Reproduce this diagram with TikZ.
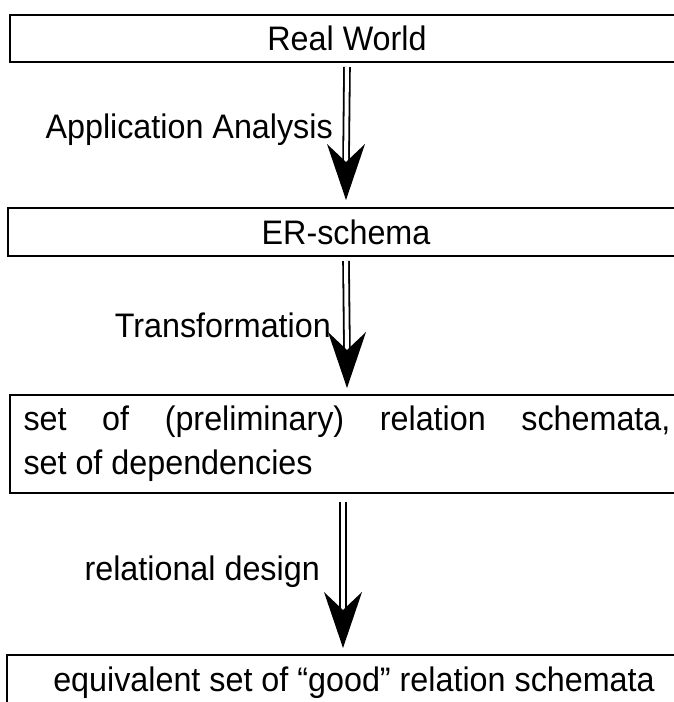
\documentclass[tikz,border=0pt]{standalone}
\usepackage{fontspec}
\setmainfont[FakeStretch=0.95]{Liberation Sans}
\usetikzlibrary{arrows.meta}
\begin{document}
\begin{tikzpicture}[x=1pt,y=-1pt,
  font=\fontsize{34}{40}\selectfont,
  box/.style={draw, line width=1.8pt, rectangle, inner sep=0pt, outer sep=0pt},
  lbl/.style={anchor=east, inner sep=0pt},
  dbl/.style={double, double distance=4pt, line width=1.8pt},
  head/.style={draw=none, fill=black}]
\useasboundingbox (0,0) rectangle (673,702);
\node[box, minimum width=674pt, minimum height=47pt] (rw) at (347,38.5) {Real World};
\node[box, minimum width=676pt, minimum height=48pt] (er) at (346,232) {ER-schema};
\node[box, minimum width=674pt, minimum height=98pt, align=left] (rs) at (347,444)
  {\makebox[647pt][s]{set of (preliminary) relation schemata,}\\[4pt]
   \makebox[647pt][l]{set of dependencies}};
\node[box, minimum width=694pt, minimum height=56pt] (gs) at (354,683) {equivalent set of “good” relation schemata};
% arrows
\coordinate (t1) at ([yshift=8pt]er.north);
\coordinate (t2) at ([yshift=7pt]rs.north);
\coordinate (t3) at ([xshift=-11pt,yshift=7pt]gs.north);
\draw[dbl] ([yshift=-5pt]rw.south) -- ([yshift=35pt]t1);
\draw[dbl] ([yshift=-5pt]er.south) -- ([yshift=35pt]t2);
\draw[dbl] ([xshift=-4pt,yshift=-9pt]rs.south) -- ([yshift=35pt]t3);
\fill[head] (t1) -- ++(-19,-56) -- ++(19,18) -- ++(19,-18) -- cycle;
\fill[head] (t2) -- ++(-19,-56) -- ++(19,18) -- ++(19,-18) -- cycle;
\fill[head] (t3) -- ++(-19,-56) -- ++(19,18) -- ++(19,-18) -- cycle;
\node[lbl] (la) at (333,130) {Application Analysis};
\node[lbl] (lt) at (331,325) {Transformation};
\node[lbl] (lr) at (320,572) {relational design};
\end{tikzpicture}
\end{document}
